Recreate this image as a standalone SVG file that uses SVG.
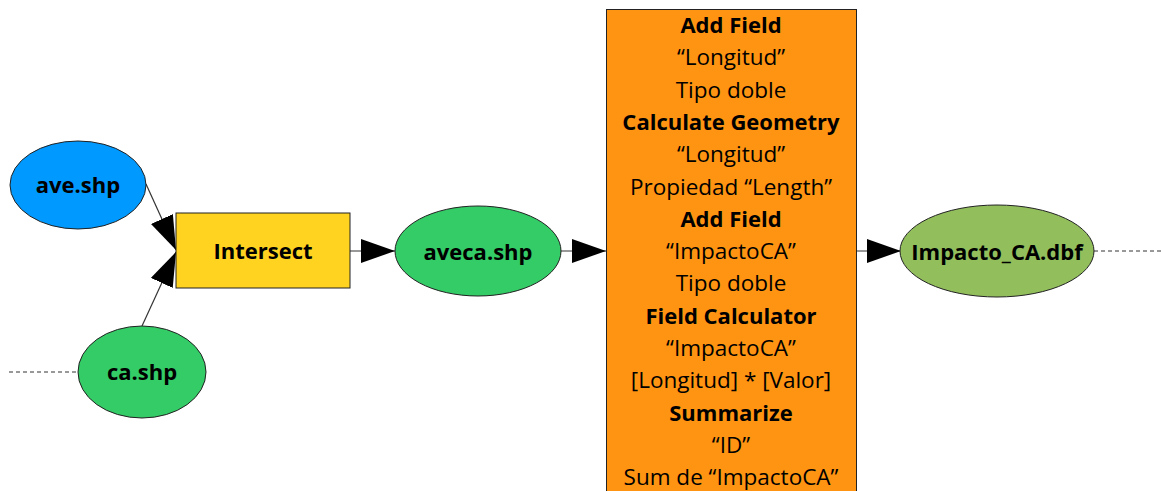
<svg xmlns="http://www.w3.org/2000/svg" width="1161" height="491" viewBox="0 0 1161 491">
<defs>
<style>
.lbl{font-family:"Open Sans","Noto Sans",sans-serif;font-size:22px;font-weight:bold;fill:#000;text-anchor:middle}
.t{font-family:"Open Sans","Noto Sans",sans-serif;font-size:22.5px;fill:#000;text-anchor:middle}
.b{font-weight:bold;font-size:22px}
.edge{stroke:#333;stroke-width:1.2;fill:none}
.dash{stroke:#333;stroke-width:1;stroke-dasharray:4,3;fill:none}
.shape{stroke:#222;stroke-width:1}
</style>
<marker id="arr" markerWidth="34" markerHeight="24" refX="34" refY="12" orient="auto" markerUnits="userSpaceOnUse">
<path d="M0,0 L34,12 L0,24 Z" fill="#000"/>
</marker>
</defs>
<rect width="1161" height="491" fill="#fff"/>
<g id="connectors">
<line class="dash" x1="9" y1="372" x2="77" y2="372"/>
<line class="dash" x1="1094" y1="251" x2="1161" y2="251"/>
<line class="edge" x1="146" y1="184" x2="176" y2="250" marker-end="url(#arr)"/>
<line class="edge" x1="142" y1="326" x2="176" y2="252" marker-end="url(#arr)"/>
<line class="edge" x1="350" y1="251" x2="395" y2="251" marker-end="url(#arr)"/>
<line class="edge" x1="561" y1="251" x2="606" y2="251" marker-end="url(#arr)"/>
<line class="edge" x1="857" y1="251" x2="901" y2="251" marker-end="url(#arr)"/>
</g>
<g id="ave">
<ellipse class="shape" cx="78" cy="185" rx="68" ry="44" fill="#0099FF"/>
<text class="lbl" x="78" y="193">ave.shp</text>
</g>
<g id="ca">
<ellipse class="shape" cx="142" cy="372" rx="64" ry="46" fill="#33CC66"/>
<text class="lbl" x="142" y="380">ca.shp</text>
</g>
<g id="intersect">
<rect class="shape" x="176" y="213" width="174" height="75" fill="#FFD320"/>
<text class="lbl" x="263" y="259">Intersect</text>
</g>
<g id="aveca">
<ellipse class="shape" cx="478" cy="251" rx="83" ry="45" fill="#33CC66"/>
<text class="lbl" x="478" y="260">aveca.shp</text>
</g>
<g id="process">
<rect class="shape" x="606.5" y="9.5" width="250" height="490" fill="#FF9412"/>
<text class="t b" x="731" y="33">Add Field</text>
<text class="t" x="731" y="65.3">“Longitud”</text>
<text class="t" x="731" y="97.6">Tipo doble</text>
<text class="t b" x="731" y="130">Calculate Geometry</text>
<text class="t" x="731" y="162.2">“Longitud”</text>
<text class="t" x="731" y="194.5">Propiedad “Length”</text>
<text class="t b" x="731" y="226.8">Add Field</text>
<text class="t" x="731" y="259">“ImpactoCA”</text>
<text class="t" x="731" y="291.4">Tipo doble</text>
<text class="t b" x="731" y="323.7">Field Calculator</text>
<text class="t" x="731" y="356">“ImpactoCA”</text>
<text class="t" x="731" y="388.3">[Longitud] * [Valor]</text>
<text class="t b" x="731" y="420.6">Summarize</text>
<text class="t" x="731" y="452.9">“ID”</text>
<text class="t" x="731" y="485.2">Sum de “ImpactoCA”</text>
</g>
<g id="impacto">
<ellipse class="shape" cx="997" cy="251" rx="97" ry="46" fill="#92BF5C"/>
<text class="lbl" x="997" y="260">Impacto_CA.dbf</text>
</g>
</svg>
